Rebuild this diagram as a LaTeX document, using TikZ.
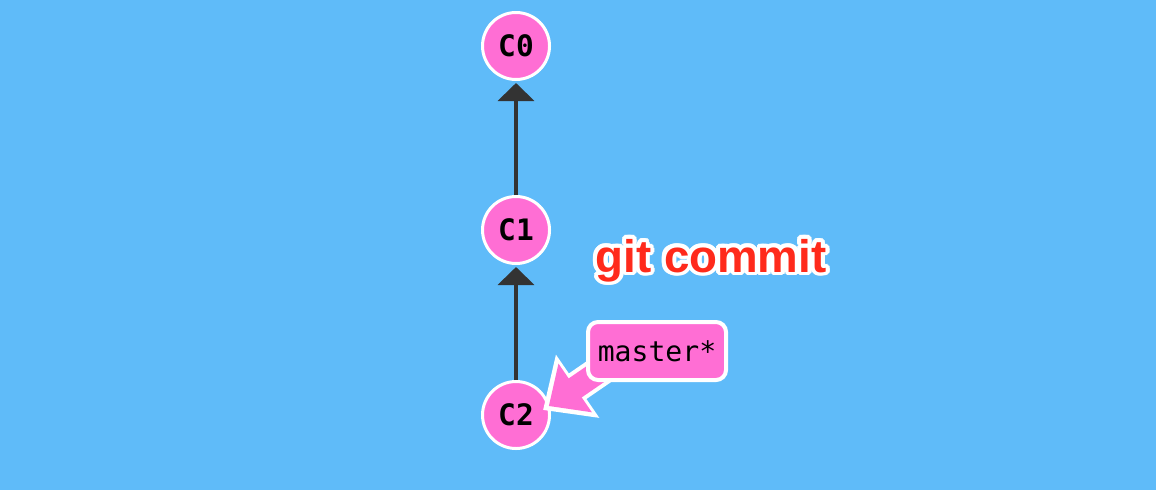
\documentclass[tikz,border=0pt]{standalone}
\usepackage{fontspec}
\setmainfont{Liberation Sans}
\setmonofont{DejaVu Sans Mono}
\usetikzlibrary{arrows.meta}
\definecolor{skyblue}{RGB}{95,187,249}
\definecolor{commitpink}{RGB}{255,110,212}
\definecolor{darkgray}{RGB}{51,51,51}
\definecolor{cmdred}{RGB}{255,42,27}
\begin{document}
\begin{tikzpicture}[
        commit/.style={circle,fill=commitpink,draw=white,line width=0.03cm,
            minimum size=0.67cm,inner sep=0pt,font=\fontsize{8.4}{9}\ttfamily\bfseries},
        branch/.style={rectangle,rounded corners=0.1cm,fill=commitpink,draw=white,
            line width=0.04cm,minimum width=1.38cm,minimum height=0.58cm,
            inner sep=0pt,font=\fontsize{8}{9}\ttfamily},
        parent/.style={darkgray,line width=0.04cm,
            -{Triangle[length=0.18cm,width=0.36cm]},shorten >=0.02cm}]
        \fill[skyblue] (0,0) rectangle (11.56,4.90);
        \useasboundingbox (0,0) rectangle (11.56,4.90);
        % commits
        \node[commit] (C0) at (5.16,4.44) {C0};
        \node[commit] (C1) at (5.16,2.60) {C1};
        \node[commit] (C2) at (5.16,0.75) {C2};
        \draw[parent] (C1) -- (C0);
        \draw[parent] (C2) -- (C1);
        % branch pointer
        \coordinate (tip) at (5.43,0.80);
        \coordinate (tail) at (6.45,1.50);
        \draw[white,line width=0.31cm,-{Triangle[length=0.42cm,width=0.74cm]}] (tail) -- (tip);
        \draw[commitpink,line width=0.23cm,shorten >=0.07cm,
            -{Triangle[length=0.32cm,width=0.57cm]}] (tail) -- (tip);
        \node[branch] (master) at (6.57,1.39) {master*};
        % command
        \foreach \a in {0,20,...,340}
        \node[white,anchor=base,font=\fontsize{13}{14}\bfseries] at ([shift={(\a:0.04)}]7.11,2.18) {git commit};
        \node[cmdred,anchor=base,font=\fontsize{13}{14}\bfseries] (cmd) at (7.11,2.18) {git commit};
    \end{tikzpicture}
\end{document}
